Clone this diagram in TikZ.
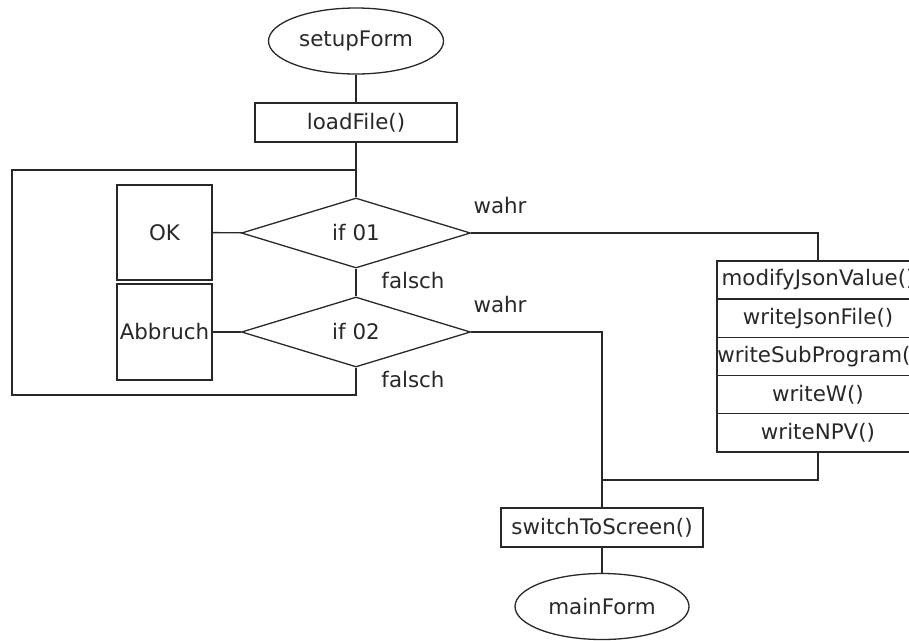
\documentclass[tikz,border=0pt]{standalone}
\usepackage{fontspec}
\setmainfont{DejaVu Sans}
\usetikzlibrary{shapes.geometric}
\definecolor{ink}{RGB}{40,40,40}
\tikzset{
  every node/.style={font=\fontsize{21.4}{25}\selectfont, text=ink, inner sep=0pt},
  line/.style={draw=ink, line width=1.3pt},
  terminal/.style={ellipse, line, minimum width=175, minimum height=66},
  proc/.style={rectangle, line, minimum width=202, minimum height=39},
  decision/.style={diamond, line, minimum width=229, minimum height=70},
  sidebox/.style={rectangle, line, minimum width=95, minimum height=95},
  stackrow/.style={rectangle, line, minimum width=202, minimum height=38.2},
  lbl/.style={}
}
\begin{document}
\begin{tikzpicture}[x=1pt,y=-1pt]
  \useasboundingbox (0,0) rectangle (909,640);
  \clip (0,0) rectangle (909,640);

  % main column
  \node[terminal] (setup) at (356,41) {setupForm};
  \node[proc] (load) at (356,122.5) {loadFile()};
  \node[decision] (if1) at (356,233) {if 01};
  \node[decision] (if2) at (356,332) {if 02};

  % side boxes of the decisions
  \node[sidebox] (ok) at (164.5,232.5) {OK};
  \node[sidebox, minimum height=96] (abort) at (164.5,332) {Abbruch};

  % stack of calls on the "wahr" branch of if 01 (runs past the right edge)
  \node[stackrow] (s1) at (818,280) {modifyJsonValue()};
  \node[stackrow] (s2) at (818,318.2) {writeJsonFile()};
  \node[stackrow] (s3) at (818,356.4) {writeSubProgram()};
  \node[stackrow] (s4) at (818,394.6) {writeW()};
  \node[stackrow] (s5) at (818,432.8) {writeNPV()};

  % end of the flow
  \node[proc] (switch) at (602,527.5) {switchToScreen()};
  \node[terminal, minimum width=174] (main) at (602,606.5) {mainForm};

  % helper points of the loop and the merge
  \coordinate (join) at (356,170);
  \coordinate (loopcorner) at (12,395);
  \coordinate (merge) at (602,480);

  % connectors
  \draw[line] (setup) -- (load);
  \draw[line] (load) -- (if1);
  \draw[line] (if1) -- (if2);
  \draw[line] (ok) -- (if1);
  \draw[line] (abort) -- (if2);
  \draw[line] (if2.south) |- (loopcorner) |- (join);
  \draw[line] (if1.east) -| (s1.north);
  \draw[line] (if2.east) -| (switch.north);
  \draw[line] (s5.south) |- (merge);
  \draw[line] (switch) -- (main);

  % branch labels
  \node[lbl] (t1) at (500,206) {wahr};
  \node[lbl] (f1) at (413,281) {falsch};
  \node[lbl] (t2) at (500,305) {wahr};
  \node[lbl] (f2) at (413,380) {falsch};
\end{tikzpicture}
\end{document}
